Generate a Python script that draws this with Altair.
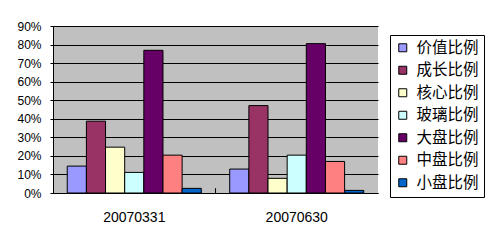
import altair as alt
import pandas as pd

dates = ["20070331", "20070630"]
series = ["价值比例", "成长比例", "核心比例", "玻璃比例", "大盘比例", "中盘比例", "小盘比例"]
colors = ["#9999FF", "#993366", "#FFFFCC", "#CCFFFF", "#660066", "#FF8080", "#0066CC"]
v_20070331 = [0.145, 0.387, 0.247, 0.111, 0.769, 0.204, 0.025]
v_20070630 = [0.129, 0.471, 0.079, 0.204, 0.805, 0.170, 0.014]
y_ticks = [0.0, 0.1, 0.2, 0.3, 0.4, 0.5, 0.6, 0.7, 0.8, 0.9]
boundary_dates = ["20070331"]

rows = []
for d, vals in zip(dates, [v_20070331, v_20070630]):
    for s, v in zip(series, vals):
        rows.append({"date": d, "series": s, "value": v})
df = pd.DataFrame(rows)
bdf = pd.DataFrame({"date": boundary_dates})

num_font = "Liberation Sans"
cjk_font = "Noto Sans CJK SC"

x_scale = alt.Scale(domain=dates, paddingInner=0.175, paddingOuter=0.0877)
y_scale = alt.Scale(domain=[0, 0.9], nice=False)
x_axis = alt.Axis(labelAngle=0, labelFont=num_font, labelFontSize=14,
                  labelColor="black", tickSize=0, labelPadding=17,
                  domainColor="black", domainWidth=1)
y_axis = alt.Axis(values=y_ticks, format=".0%", labelFont=num_font,
                  labelFontSize=12, labelColor="black", tickSize=3,
                  tickColor="black", labelPadding=9,
                  domainColor="black", domainWidth=1,
                  grid=True, gridColor="black", gridWidth=1, gridOpacity=1)

bars = alt.Chart(df).mark_bar(stroke="black", strokeWidth=1).encode(
    x=alt.X("date:N", title=None, sort=dates, scale=x_scale, axis=x_axis),
    xOffset=alt.XOffset("series:N", sort=series,
                        scale=alt.Scale(paddingInner=0, paddingOuter=0)),
    y=alt.Y("value:Q", title=None, scale=y_scale, axis=y_axis),
    color=alt.Color("series:N", sort=series, title=None,
                    scale=alt.Scale(domain=series, range=colors),
                    legend=alt.Legend(orient="none", legendX=337, legendY=9,
                                      symbolType="square", symbolSize=64,
                                      symbolStrokeColor="black", symbolStrokeWidth=1,
                                      symbolOpacity=1,
                                      labelFont=cjk_font, labelFontSize=15.5,
                                      labelColor="black", labelOffset=6,
                                      rowPadding=5.5, padding=5,
                                      strokeColor="black", fillColor="white",
                                      labelLimit=200)),
)

tick = alt.Chart(bdf).mark_rule(color="black", strokeWidth=1, xOffset=14.25).encode(
    x=alt.X("date:N", title=None, sort=dates, scale=x_scale, bandPosition=1, axis=x_axis),
    y=alt.Y(datum=0, type="quantitative", title=None, scale=y_scale, axis=y_axis),
    y2=alt.datum(0.026),
)

chart = alt.layer(bars, tick).properties(
    width=325, height=167,
    autosize=alt.AutoSizeParams(type="none"),
    padding={"left": 53, "top": 26, "right": 109, "bottom": 48},
    background="white",
).configure_view(
    fill="#C0C0C0", stroke=None
)

chart.save("out.html", embed_options={"renderer": "svg", "actions": False})
